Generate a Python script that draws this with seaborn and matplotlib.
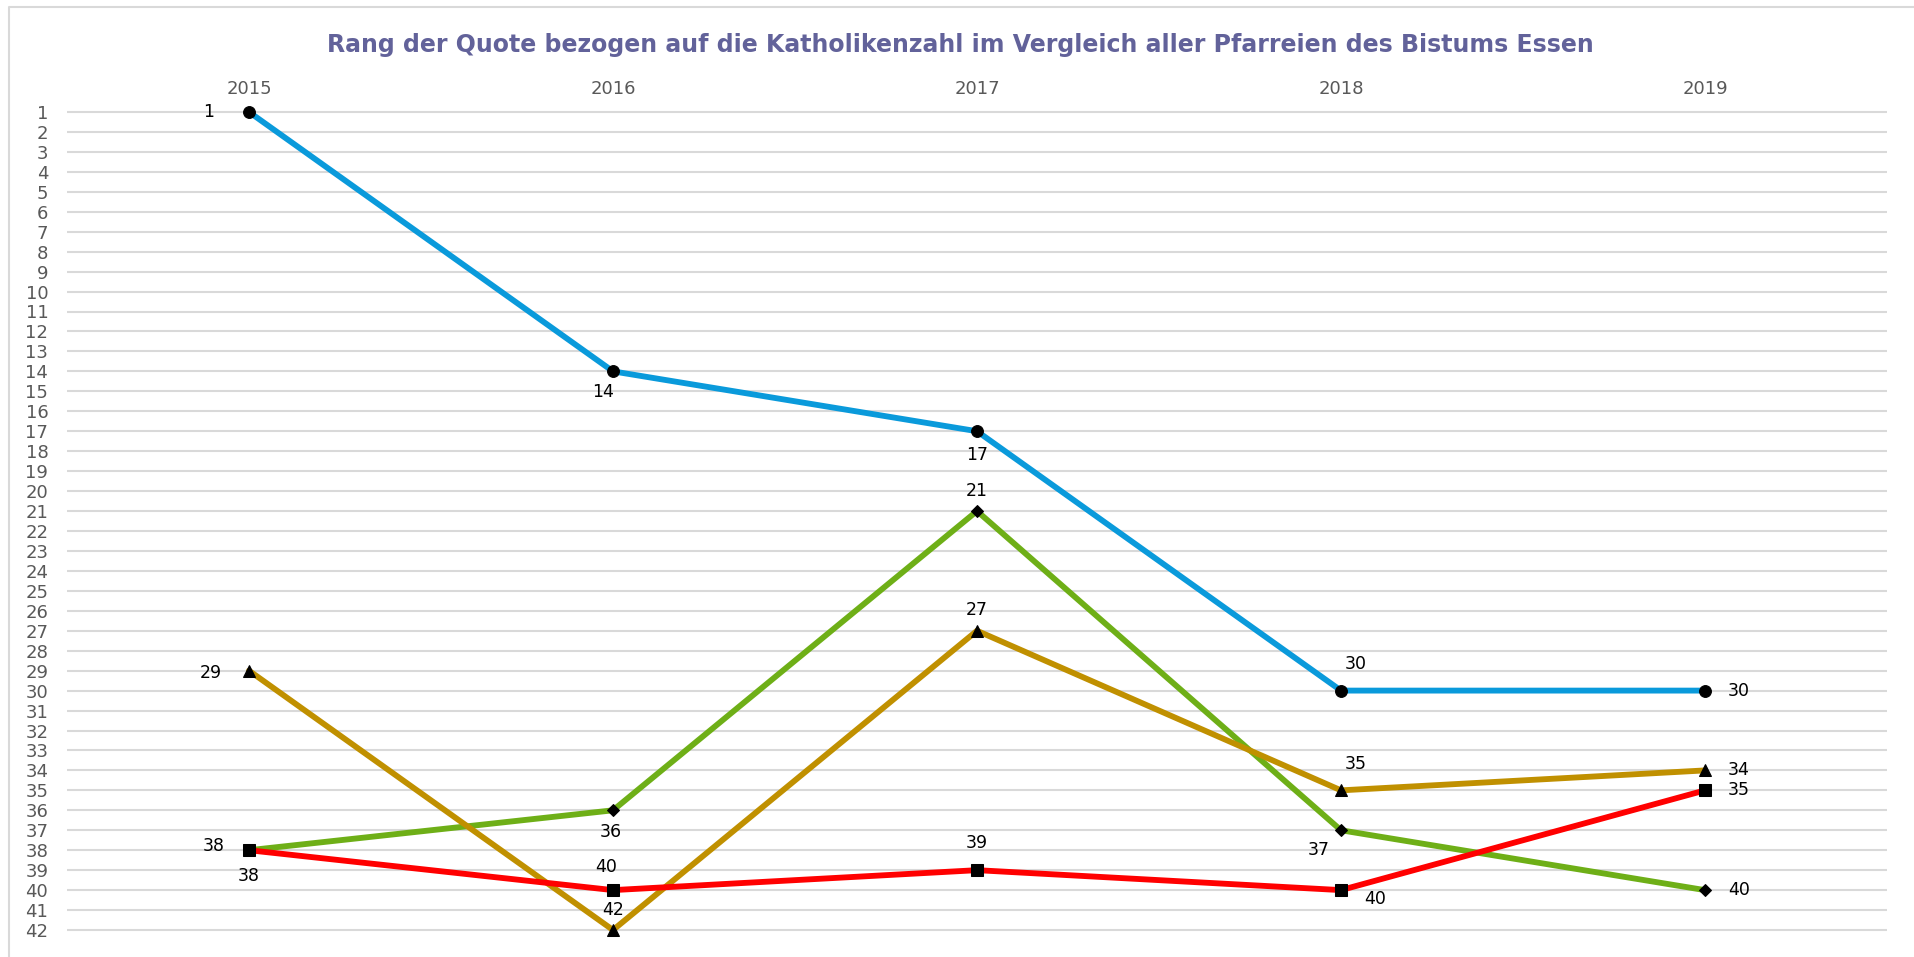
import pandas as pd
import matplotlib.pyplot as plt
import seaborn as sns
from matplotlib.lines import Line2D

# Werte aus dem Diagramm (Rang, 1 = bester)
years = ['2015', '2016', '2017', '2018', '2019']
rank_blue = [1, 14, 17, 30, 30]
rank_green = [38, 36, 21, 37, 40]
rank_gold = [29, 42, 27, 35, 34]
rank_red = [38, 40, 39, 40, 35]

title = 'Rang der Quote bezogen auf die Katholikenzahl im Vergleich aller Pfarreien des Bistums Essen'

sns.set_style('white')
plt.rcParams['font.family'] = ['DejaVu Sans']

series = [
    ('Reihe 1', rank_blue, '#0A9ADB', 'o', 8.5),
    ('Reihe 2', rank_green, '#6EAF17', 'D', 6.5),
    ('Reihe 3', rank_gold, '#C09000', '^', 9),
    ('Reihe 4', rank_red, '#FF0000', 's', 8),
]

# label offsets in pixels (dx, dy), dy up positive
offsets = {
    'Reihe 1': [(-40, 0), (-10, -21), (0, -24), (15, 27), (34, 0)],
    'Reihe 2': [(-35, 4), (-2, -22), (0, 20), (-22, -20), (34, 0)],
    'Reihe 3': [(-38, -2), (0, 20), (0, 21), (15, 26), (34, 0)],
    'Reihe 4': [(0, -26), (-7, 23), (0, 27), (34, -9), (34, 0)],
}

fig = plt.figure(figsize=(19.14, 9.57), dpi=100)
ax = fig.add_axes([67 / 1914, 1 - 940 / 957, (1887 - 67) / 1914, (940 - 102) / 957])

for name, vals, col, mk, ms in series:
    df = pd.DataFrame({'Jahr': years, 'Rang': vals})
    sns.lineplot(data=df, x='Jahr', y='Rang', ax=ax, color=col, linewidth=4.2,
                 marker=mk, markersize=ms, markerfacecolor='black',
                 markeredgecolor='black', clip_on=False, zorder=3)
    for i, v in enumerate(vals):
        dx, dy = offsets[name][i]
        ax.annotate(str(v), (i, v), xytext=(dx, dy), textcoords='offset pixels',
                    ha='center', va='center', fontsize=12.5, color='black', zorder=4)

ax.set_xlim(-0.5, 4.5)
ax.set_ylim(42.5, 0.5)
ax.set_yticks(range(1, 43))
ax.set_xticks(range(len(years)))
ax.set_xticklabels(years)
ax.xaxis.tick_top()
ax.grid(axis='y', color='#D9D9D9', linewidth=1.5)
ax.grid(axis='x', visible=False)
ax.set_axisbelow(True)
for s in ax.spines.values():
    s.set_visible(False)
ax.set_xlabel('')
ax.set_ylabel('')
ax.tick_params(axis='y', length=0, pad=13.5, labelsize=13, labelcolor='#595959')
ax.tick_params(axis='x', length=0, pad=3, labelsize=13, labelcolor='#595959')

fig.text(960 / 1914, 1 - 45 / 957, title, ha='center', va='center',
         fontsize=17, fontweight='bold', color='#62629A')

# chart frame
fig.add_artist(Line2D([9 / 1914, 9 / 1914, 1.0], [0, 1 - 7 / 957, 1 - 7 / 957],
                      transform=fig.transFigure, color='#D9D9D9', linewidth=1.5))

fig.savefig('out.png', dpi=100)
